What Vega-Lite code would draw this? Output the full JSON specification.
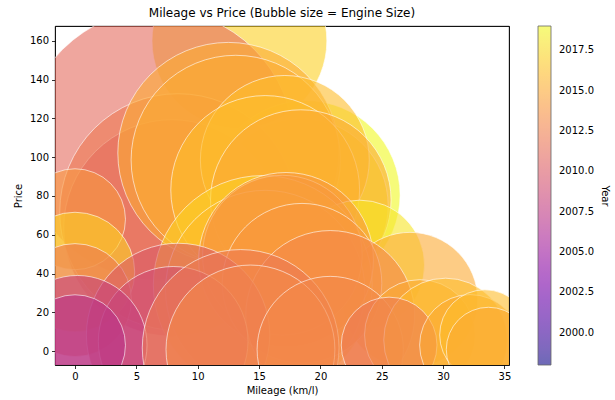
{
  "$schema": "https://vega.github.io/schema/vega-lite/v6.json",
  "width": 454,
  "height": 339,
  "autosize": {"type": "none"},
  "padding": {"left": 55, "top": 26, "right": 106, "bottom": 35},
  "title": {
    "text": "Mileage vs Price (Bubble size = Engine Size)",
    "font": "DejaVu Sans",
    "fontSize": 12,
    "fontWeight": "normal",
    "color": "black",
    "anchor": "middle",
    "offset": 6
  },
  "config": {
    "view": {"stroke": "black", "strokeWidth": 0.8},
    "axis": {
      "grid": false,
      "domain": true,
      "domainColor": "black",
      "domainWidth": 0.8,
      "tickColor": "black",
      "tickSize": 3.5,
      "tickWidth": 0.8,
      "labelFont": "DejaVu Sans",
      "labelFontSize": 10,
      "labelColor": "black",
      "labelPadding": 3,
      "titleFont": "DejaVu Sans",
      "titleFontSize": 10,
      "titleFontWeight": "normal",
      "titleColor": "black",
      "zindex": 1
    }
  },
  "data": {
    "values": [
      {"mileage": 13.4, "price": 160.0, "year": 2017, "engine": 3000},
      {"mileage": 6.8, "price": 106.3, "year": 2011, "engine": 7200},
      {"mileage": 18.8, "price": 80.5, "year": 2019, "engine": 3500},
      {"mileage": 18.4, "price": 75.0, "year": 2018, "engine": 3000},
      {"mileage": 7.9, "price": 63.5, "year": 2010, "engine": 4600},
      {"mileage": 8.4, "price": 71.7, "year": 2012, "engine": 5500},
      {"mileage": 0.0, "price": 68.0, "year": 2014, "engine": 1000},
      {"mileage": 12.5, "price": 102.2, "year": 2015, "engine": 4800},
      {"mileage": 13.1, "price": 98.6, "year": 2015, "engine": 4300},
      {"mileage": 17.1, "price": 98.6, "year": 2016, "engine": 2800},
      {"mileage": 15.5, "price": 83.1, "year": 2016, "engine": 3500},
      {"mileage": 18.4, "price": 77.9, "year": 2015, "engine": 3200},
      {"mileage": 23.2, "price": 44.4, "year": 2018, "engine": 1650},
      {"mileage": 27.3, "price": 26.3, "year": 2015, "engine": 1800},
      {"mileage": 0.0, "price": 40.8, "year": 2017, "engine": 1400},
      {"mileage": 15.3, "price": 34.1, "year": 2017, "engine": 4700},
      {"mileage": 15.5, "price": 31.5, "year": 2016, "engine": 3900},
      {"mileage": 16.9, "price": 49.5, "year": 2014, "engine": 2500},
      {"mileage": 17.2, "price": 47.0, "year": 2014, "engine": 3000},
      {"mileage": 18.5, "price": 35.0, "year": 2014, "engine": 2500},
      {"mileage": 20.8, "price": 18.6, "year": 2013, "engine": 2800},
      {"mileage": 0.0, "price": 26.3, "year": 2012, "engine": 1250},
      {"mileage": 8.4, "price": 8.3, "year": 2010, "engine": 3300},
      {"mileage": 8.0, "price": 5.0, "year": 2009, "engine": 2200},
      {"mileage": 0.2, "price": 3.1, "year": 2008, "engine": 1900},
      {"mileage": 0.0, "price": 3.0, "year": 2007, "engine": 1000},
      {"mileage": 13.5, "price": 1.6, "year": 2012, "engine": 3800},
      {"mileage": 14.3, "price": 0.8, "year": 2013, "engine": 2800},
      {"mileage": 20.8, "price": 0.8, "year": 2013, "engine": 2100},
      {"mileage": 28.1, "price": 8.3, "year": 2015, "engine": 1200},
      {"mileage": 30.2, "price": 5.7, "year": 2016, "engine": 1500},
      {"mileage": 25.6, "price": 3.1, "year": 2012, "engine": 900},
      {"mileage": 32.2, "price": 3.1, "year": 2015, "engine": 1000},
      {"mileage": 33.4, "price": 8.3, "year": 2016, "engine": 800},
      {"mileage": 33.7, "price": 0.8, "year": 2015, "engine": 700}
    ]
  },
  "layer": [
    {
      "mark": {
        "type": "circle",
        "clip": true,
        "fillOpacity": 0.6,
        "strokeOpacity": 0.6,
        "stroke": "white",
        "strokeWidth": 1
      },
      "encoding": {
        "x": {
          "field": "mileage",
          "type": "quantitative",
          "scale": {"domain": [-1.63, 35.37], "nice": false, "zero": false},
          "axis": {"title": "Mileage (km/l)", "values": [0, 5, 10, 15, 20, 25, 30, 35], "titlePadding": 4}
        },
        "y": {
          "field": "price",
          "type": "quantitative",
          "scale": {"domain": [-7.2, 167.7], "nice": false, "zero": false},
          "axis": {"title": "Price", "values": [0, 20, 40, 60, 80, 100, 120, 140, 160], "titlePadding": 6}
        },
        "color": {
          "field": "year",
          "type": "quantitative",
          "scale": {"scheme": "plasma", "domain": [1998, 2019]},
          "legend": {
            "title": "Year",
            "orient": "right",
            "offset": 29,
            "padding": 0,
            "gradientLength": 339,
            "gradientThickness": 13,
            "gradientOpacity": 0.6,
            "gradientStrokeColor": "black",
            "gradientStrokeWidth": 0.8,
            "values": [2000, 2002.5, 2005, 2007.5, 2010, 2012.5, 2015, 2017.5],
            "format": ".1f",
            "labelFont": "DejaVu Sans",
            "labelFontSize": 10,
            "labelColor": "black",
            "labelOffset": 8,
            "labelOverlap": false,
            "titleOrient": "right",
            "titleAngle": 270,
            "titleFont": "DejaVu Sans",
            "titleFontSize": 10,
            "titleFontWeight": "normal",
            "titleColor": "black",
            "titleAnchor": "middle",
            "titlePadding": 6
          }
        },
        "size": {
          "field": "engine",
          "type": "quantitative",
          "scale": {"type": "linear", "domain": [0, 8000], "range": [0, 81487], "zero": true},
          "legend": null
        }
      }
    },
    {
      "mark": {"type": "point", "opacity": 0},
      "encoding": {
        "x": {
          "field": "mileage",
          "type": "quantitative",
          "axis": {"orient": "top", "labels": false, "ticks": false, "title": null}
        },
        "y": {
          "field": "price",
          "type": "quantitative",
          "axis": {"orient": "right", "labels": false, "ticks": false, "title": null}
        }
      }
    }
  ],
  "resolve": {"axis": {"x": "independent", "y": "independent"}}
}
